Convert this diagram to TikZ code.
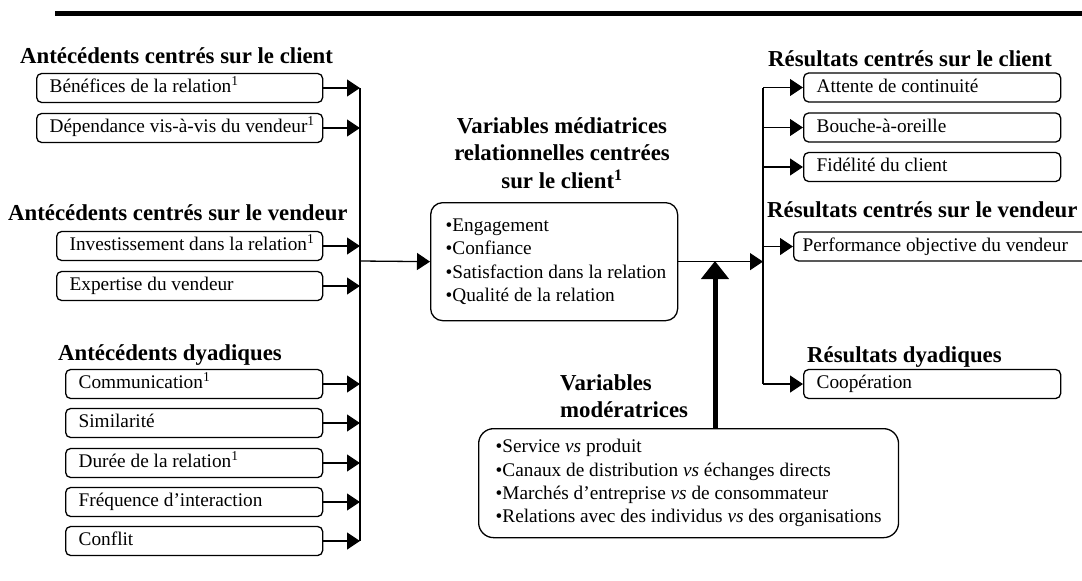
\documentclass[tikz,border=0pt]{standalone}
\usepackage{fontspec}
\setmainfont{Liberation Serif}
\usetikzlibrary{arrows.meta}

\newcommand{\boxfont}{\fontsize{19.3}{23.3}\selectfont}
\newcommand{\headfont}{\fontsize{22.8}{27.5}\selectfont\bfseries}

\begin{document}
\begin{tikzpicture}[x=1pt, y=-1pt,
    item/.style={draw=black, line width=1.3pt, rounded corners=5pt, anchor=west, align=flush left,
      minimum height=29pt, inner xsep=13pt, inner ysep=0pt, text height=13.5pt, text depth=4pt, font=\boxfont,
      text width=#1, execute at begin node=\hbox\bgroup, execute at end node=\egroup},
    head/.style={anchor=base west, inner sep=0pt, font=\headfont},
    group/.style={draw=black, line width=1.3pt, anchor=north west, align=flush left, font=\boxfont},
    feed/.style={line width=1.3pt, -{Triangle[length=13pt, width=17pt]}},
    push/.style={line width=5pt, -{Triangle[length=18pt, width=27pt]}}]
      \useasboundingbox (0,0) rectangle (1082,581);
      \draw[line width=5pt] (55,13) -- (1082,13);

      \node[head](hc) at (20,63) {Antécédents centrés sur le client};
      \node[item=260pt](ben) at (36, 88) {Bénéfices de la relation\textsuperscript{1}};
      \node[item=260pt](dep) at (36,128) {Dépendance vis-à-vis du vendeur\textsuperscript{1}};
      \node[head](hv) at (8,220) {Antécédents centrés sur le vendeur};
      \node[item=240pt](inv) at (56,246) {Investissement dans la relation\textsuperscript{1}};
      \node[item=240pt](exp) at (56,286) {Expertise du vendeur};
      \node[head](hd) at (58,360) {Antécédents dyadiques};
      \node[item=231pt](com) at (65,384) {Communication\textsuperscript{1}};
      \node[item=231pt](sim) at (65,423) {Similarité};
      \node[item=231pt](dur) at (65,463) {Durée de la relation\textsuperscript{1}};
      \node[item=231pt](fre) at (65,502) {Fréquence d’interaction};
      \node[item=231pt](con) at (65,541) {Conflit};

      \node[font=\headfont, align=center, inner sep=0pt](mtitle) at (562,153) {Variables médiatrices\\relationnelles centrées\\sur le client\textsuperscript{1}};
      \node[group, rounded corners=12pt, minimum height=118pt, text width=217pt, inner xsep=15pt](med) at (430,202)
        {•Engagement\\•Confiance\\\mbox{•Satisfaction dans la relation}\\•Qualité de la relation};

      \node[font=\headfont, align=left, anchor=west, inner sep=0pt](modt) at (560,396) {Variables\\modératrices};
      \node[group, rounded corners=15pt, minimum height=109pt, inner xsep=17pt](mod) at (478,428)
        {•Service \emph{vs} produit\\•Canaux de distribution \emph{vs} échanges directs\\•Marchés d’entreprise \emph{vs} de consommateur\\•Relations avec des individus \emph{vs} des organisations};

      \node[head](rc) at (768,66) {Résultats centrés sur le client};
      \node[item=231pt](att) at (803, 87.5) {Attente de continuité};
      \node[item=231pt](bou) at (803,127.5) {Bouche-à-oreille};
      \node[item=231pt](fid) at (803,167) {Fidélité du client};
      \node[head](rv) at (767,217) {Résultats centrés sur le vendeur};
      \node[item=300pt, inner xsep=9pt](perf) at (793,246.5) {Performance objective du vendeur};
      \node[head](rd) at (807,362) {Résultats dyadiques};
      \node[item=231pt](coop) at (803,384) {Coopération};

      \coordinate (lbus) at (360,261);
      \coordinate (rbus) at (763,261);
      \coordinate (join) at (715,261);

      \foreach \n in {ben,dep,inv,exp,com,sim,dur,fre,con}
        \draw[feed] (\n.east) -- (\n.east -| lbus);
      \draw[line width=1.3pt] (ben.east -| lbus) -- (con.east -| lbus);
      \draw[feed] (lbus) -- (med.west);
      \draw[feed] (med.east) -- (med.east -| rbus);
      \draw[line width=1.3pt] (att.west -| rbus) -- (coop.west -| rbus);
      \foreach \n in {att,bou,fid,perf,coop}
        \draw[feed] (\n.west -| rbus) -- (\n.west);
      \draw[push] (mod.north -| join) -- (join);
    \end{tikzpicture}
\end{document}
